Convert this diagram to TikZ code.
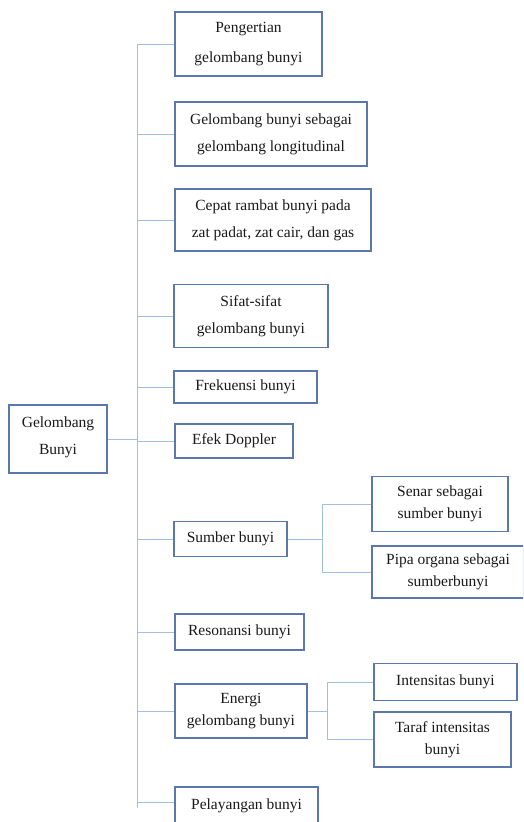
\documentclass[tikz,border=0pt]{standalone}
\usepackage{fontspec}
\setmainfont{Liberation Serif}
\definecolor{boxc}{HTML}{5B78AE}
\definecolor{connc}{HTML}{A3BFE0}
\definecolor{txtc}{HTML}{1A1A1A}
\begin{document}
\begin{tikzpicture}[x=1pt,y=-1pt,
  box/.style={draw=boxc, line width=1.1pt, rectangle, inner sep=0pt, align=center, text=txtc,
    font=\fontsize{15.5}{27}\selectfont},
  tight/.style={font=\fontsize{15.5}{22}\selectfont},
  conn/.style={draw=connc, line width=0.9pt}]
\useasboundingbox (0,0) rectangle (523,822);
\clip (0,0) rectangle (523,822);
\fill[white] (0,0) rectangle (523,822);
\coordinate (trunk) at (137,0);
\coordinate (sj) at (322,0);
\coordinate (ej) at (327,0);
% nodes
\node[box, minimum width=98, minimum height=68] (root) at (58,439) {\raisebox{7pt}{Gelombang}\\\raisebox{7pt}{Bunyi}};
\node[box, minimum width=147, minimum height=64, font=\fontsize{15.5}{30}\selectfont] (p1) at (248.5,44) {Pengertian\\gelombang bunyi};
\node[box, minimum width=192, minimum height=64] (p2) at (271,134) {Gelombang bunyi sebagai\\gelombang longitudinal};
\node[box, minimum width=196, minimum height=62] (p3) at (273,220) {Cepat rambat bunyi pada\\zat padat, zat cair, dan gas};
\node[box, minimum width=154, minimum height=63] (p4) at (251,316) {Sifat-sifat\\gelombang bunyi};
\node[box, minimum width=143, minimum height=32] (p5) at (245.5,387) {Frekuensi bunyi};
\node[box, minimum width=118, minimum height=34] (p6) at (234,441) {Efek Doppler};
\node[box, minimum width=113, minimum height=35] (p7) at (230.5,539) {Sumber bunyi};
\node[box, tight, minimum width=136, minimum height=55] (s1) at (440,504) {Senar sebagai\\sumber bunyi};
\node[box, tight, minimum width=152, minimum height=52] (s2) at (448,572) {Pipa organa sebagai\\sumberbunyi};
\node[box, minimum width=129, minimum height=36] (p8) at (239.5,632) {Resonansi bunyi};
\node[box, tight, minimum width=132, minimum height=54] (p9) at (241,711) {Energi\\gelombang bunyi};
\node[box, minimum width=143, minimum height=37] (e1) at (445.5,682) {Intensitas bunyi};
\node[box, tight, minimum width=137, minimum height=55] (e2) at (442.5,739.5) {Taraf intensitas\\bunyi};
\node[box, minimum width=143, minimum height=42] (p10) at (246.5,808) {\raisebox{7pt}{Pelayangan bunyi}};
% trunk and branches
\draw[conn] (p1.west -| trunk) -- (p10.west -| trunk);
\draw[conn] (root.east) -- (root.east -| trunk);
\foreach \n in {p1,p2,p3,p4,p5,p6,p7,p8,p9}{
  \draw[conn] (\n.west -| trunk) -- (\n.west);
}
\draw[conn] (trunk |- 0,802) -- (p10.west |- 0,802);
% sub branches
\draw[conn] (p7.east) -- (p7.east -| sj);
\draw[conn] (s1.west -| sj) -- (s2.west -| sj);
\draw[conn] (s1.west -| sj) -- (s1.west);
\draw[conn] (s2.west -| sj) -- (s2.west);
\draw[conn] (p9.east) -- (p9.east -| ej);
\draw[conn] (e1.west -| ej) -- (e2.west -| ej);
\draw[conn] (e1.west -| ej) -- (e1.west);
\draw[conn] (e2.west -| ej) -- (e2.west);
\end{tikzpicture}
\end{document}
